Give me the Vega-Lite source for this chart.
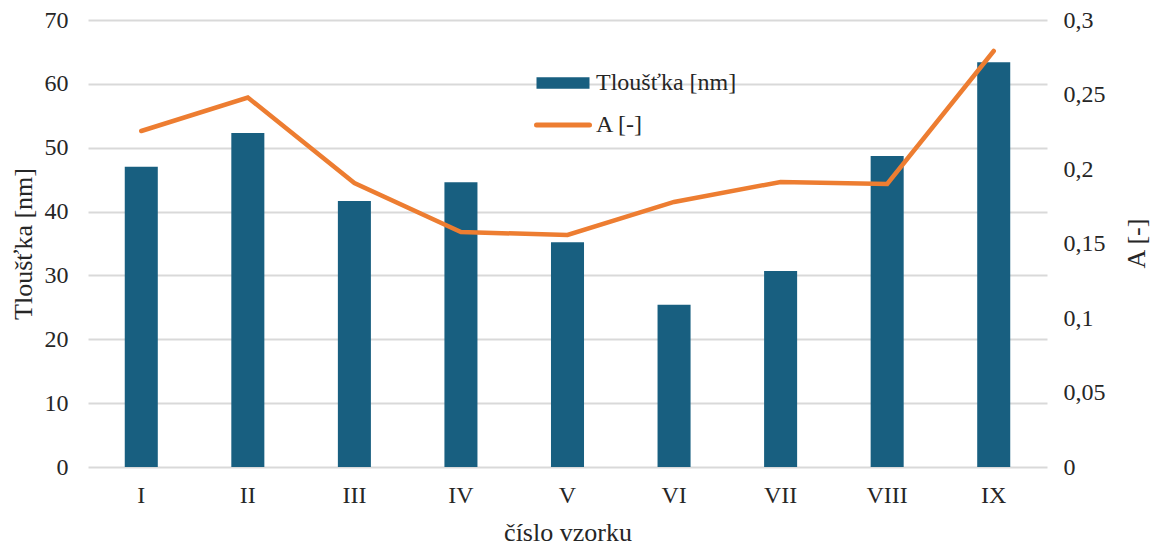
{
  "$schema": "https://vega.github.io/schema/vega-lite/v6.json",
  "width": 959,
  "height": 447,
  "autosize": {"type": "none"},
  "padding": {"left": 88, "top": 20, "right": 104, "bottom": 80},
  "background": "white",
  "config": {
    "view": {"stroke": null},
    "font": "Liberation Serif",
    "axis": {"labelFont": "Liberation Serif", "titleFont": "Liberation Serif", "labelColor": "#262626", "titleColor": "#262626", "titleFontWeight": "normal"},
    "legend": {"labelFont": "Liberation Serif"}
  },
  "data": {"values": [
    {"vzorek": "I", "tl": 47.0, "A": 0.2255},
    {"vzorek": "II", "tl": 52.3, "A": 0.248},
    {"vzorek": "III", "tl": 41.65, "A": 0.1906},
    {"vzorek": "IV", "tl": 44.6, "A": 0.1577},
    {"vzorek": "V", "tl": 35.2, "A": 0.1557},
    {"vzorek": "VI", "tl": 25.4, "A": 0.1779},
    {"vzorek": "VII", "tl": 30.7, "A": 0.1913},
    {"vzorek": "VIII", "tl": 48.7, "A": 0.19},
    {"vzorek": "IX", "tl": 63.4, "A": 0.2792}
  ]},
  "encoding": {
    "x": {
      "field": "vzorek", "type": "nominal", "sort": null,
      "scale": {"paddingInner": 0.69, "paddingOuter": 0.345},
      "axis": {"title": "číslo vzorku", "labelAngle": 0, "labelFontSize": 24, "titleFontSize": 26, "domain": false, "ticks": false, "labelPadding": 16, "titlePadding": 12}
    }
  },
  "layer": [
    {
      "mark": {"type": "bar", "color": "#185f80"},
      "encoding": {
        "y": {
          "field": "tl", "type": "quantitative",
          "scale": {"domain": [0, 70]},
          "axis": {"title": "Tloušťka [nm]", "values": [0, 10, 20, 30, 40, 50, 60, 70], "labelFontSize": 24, "titleFontSize": 26, "domain": false, "ticks": false, "labelPadding": 20, "titlePadding": 8, "gridColor": "#d9d9d9", "gridWidth": 2}
        },
        "color": {
          "datum": "Tloušťka [nm]",
          "scale": {"domain": ["Tloušťka [nm]", "A [-]"], "range": ["#185f80", "#ed7d31"]},
          "legend": {
            "title": null, "orient": "none", "legendX": 463, "legendY": 51,
            "labelFontSize": 24, "labelColor": "#262626",
            "symbolSize": 2809, "rowPadding": 18, "labelOffset": 21, "symbolStrokeWidth": 5,
            "encode": {
              "symbols": {
                "update": {
                  "shape": {"signal": "datum.value === 'A [-]' ? 'stroke' : 'M-1,-0.22H1V0.22H-1Z'"},
                  "strokeWidth": {"signal": "datum.value === 'A [-]' ? 5 : 0"},
                  "strokeCap": {"value": "round"}
                }
              }
            }
          }
        }
      }
    },
    {
      "mark": {"type": "line", "strokeWidth": 4.5, "strokeCap": "round", "strokeJoin": "miter"},
      "encoding": {
        "y": {
          "field": "A", "type": "quantitative",
          "scale": {"domain": [0, 0.3]},
          "axis": {"title": "A [-]", "orient": "right", "titleAngle": 270, "titleX": 76, "titleY": 223, "titleBaseline": "top", "titleAlign": "center", "values": [0, 0.05, 0.1, 0.15, 0.2, 0.25, 0.3], "labelExpr": "replace(format(datum.value, '.2~f'), '.', ',')", "labelFontSize": 24, "titleFontSize": 26, "domain": false, "ticks": false, "grid": false, "labelPadding": 16}
        },
        "color": {"datum": "A [-]"}
      }
    }
  ],
  "resolve": {"scale": {"y": "independent"}}
}
